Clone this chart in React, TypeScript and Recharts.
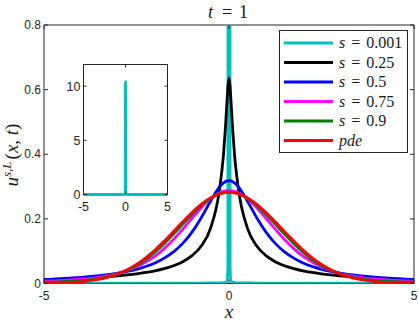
import React from 'react';
import { LineChart, Line, XAxis, YAxis, ReferenceLine, Legend } from 'recharts';

// sample positions (shared by every curve)
const xs = [
  -5, -4.5, -4, -3.5, -3, -2.75, -2.5, -2.25, -2, -1.75, -1.5, -1.25, -1, -0.75, -0.5, -0.25, -0.15, -0.1, -0.05, -0.03,
  0,
  0.03, 0.05, 0.1, 0.15, 0.25, 0.5, 0.75, 1, 1.25, 1.5, 1.75, 2, 2.25, 2.5, 2.75, 3, 3.5, 4, 4.5, 5,
];

const s0001 = [
  0.001, 0.001, 0.001, 0.001, 0.001, 0.001, 0.001, 0.001, 0.001, 0.001, 0.001, 0.001, 0.001, 0.001, 0.002, 0.002, 0.003, 0.004, 0.008, 0.05,
  10.4,
  0.05, 0.008, 0.004, 0.003, 0.002, 0.002, 0.001, 0.001, 0.001, 0.001, 0.001, 0.001, 0.001, 0.001, 0.001, 0.001, 0.001, 0.001, 0.001, 0.001,
];
const s025 = [
  0.0124, 0.0142, 0.0165, 0.0196, 0.0238, 0.0266, 0.0299, 0.0341, 0.0391, 0.0459, 0.0549, 0.0675, 0.0861, 0.1161, 0.1708, 0.296, 0.398, 0.476, 0.571, 0.607,
  0.6366,
  0.607, 0.571, 0.476, 0.398, 0.296, 0.1708, 0.1161, 0.0861, 0.0675, 0.0549, 0.0459, 0.0391, 0.0341, 0.0299, 0.0266, 0.0238, 0.0196, 0.0165, 0.0142, 0.0124,
];
const s05 = [
  0.0122, 0.0149, 0.0187, 0.0241, 0.0318, 0.0372, 0.0439, 0.0525, 0.0637, 0.0786, 0.0979, 0.1242, 0.1592, 0.2037, 0.2546, 0.2996, 0.3113, 0.3152, 0.3175, 0.318,
  0.3183,
  0.318, 0.3175, 0.3152, 0.3113, 0.2996, 0.2546, 0.2037, 0.1592, 0.1242, 0.0979, 0.0786, 0.0637, 0.0525, 0.0439, 0.0372, 0.0318, 0.0241, 0.0187, 0.0149, 0.0122,
];
const s075 = [
  0.0071, 0.0097, 0.0136, 0.0199, 0.0315, 0.0403, 0.0512, 0.0662, 0.0845, 0.108, 0.1361, 0.1681, 0.2019, 0.2347, 0.2623, 0.2808, 0.285, 0.2863, 0.2871, 0.2873,
  0.2874,
  0.2873, 0.2871, 0.2863, 0.285, 0.2808, 0.2623, 0.2347, 0.2019, 0.1681, 0.1361, 0.108, 0.0845, 0.0662, 0.0512, 0.0403, 0.0315, 0.0199, 0.0136, 0.0097, 0.0071,
];
const s09 = [
  0.0038, 0.0055, 0.0088, 0.016, 0.0304, 0.0415, 0.0559, 0.0743, 0.0968, 0.1232, 0.1527, 0.1837, 0.2143, 0.2419, 0.2639, 0.2782, 0.2813, 0.2823, 0.2829, 0.283,
  0.2831,
  0.283, 0.2829, 0.2823, 0.2813, 0.2782, 0.2639, 0.2419, 0.2143, 0.1837, 0.1527, 0.1232, 0.0968, 0.0743, 0.0559, 0.0415, 0.0304, 0.016, 0.0088, 0.0055, 0.0038,
];
const pde = [
  0.0005, 0.0018, 0.0052, 0.0132, 0.0297, 0.0426, 0.0591, 0.0796, 0.1038, 0.1312, 0.1607, 0.1909, 0.2197, 0.2451, 0.265, 0.2777, 0.2805, 0.2814, 0.2819, 0.2821,
  0.2821,
  0.2821, 0.2819, 0.2814, 0.2805, 0.2777, 0.265, 0.2451, 0.2197, 0.1909, 0.1607, 0.1312, 0.1038, 0.0796, 0.0591, 0.0426, 0.0297, 0.0132, 0.0052, 0.0018, 0.0005,
];

const xTicks = [-5, 0, 5];
const yTicks = [0, 0.2, 0.4, 0.6, 0.8];
const insetYTicks = [0, 5, 10];

const SERIES = [
  { key: 's0001', values: s0001, color: '#00BFBF', sym: 's', rest: ' = 0.001' },
  { key: 's025', values: s025, color: '#000000', sym: 's', rest: ' = 0.25' },
  { key: 's05', values: s05, color: '#0000FF', sym: 's', rest: ' = 0.5' },
  { key: 's075', values: s075, color: '#FF00FF', sym: 's', rest: ' = 0.75' },
  { key: 's09', values: s09, color: '#008000', sym: 's', rest: ' = 0.9' },
  { key: 'pde', values: pde, color: '#FF0000', sym: 'pde', rest: '' },
];

const data = xs.map((x, i) => {
  const row: Record<string, number> = { x };
  SERIES.forEach((s) => {
    row[s.key] = s.values[i];
  });
  return row;
});

const AXIS = '#262626';
const SANS = '"Liberation Sans", Arial, sans-serif';
const SERIF = '"Liberation Serif", "Times New Roman", serif';
const LW = 2.8;

type Box = { left: number; right: number; top: number; bottom: number };

// main axes box, in chart pixels
const MAIN: Box = { left: 44, right: 414, top: 25, bottom: 283.5 };
// inset axes box, in inset chart pixels
const INSET: Box = { left: 27.5, right: 111.5, top: 9.5, bottom: 139.5 };

const makeYTick = (box: Box, len: number, fs: number) => (props: any) => {
  const { y, payload } = props;
  return (
    <g>
      <text x={box.left - 3} y={y} dy={fs * 0.35} textAnchor="end" fontSize={fs} fontFamily={SANS} fill={AXIS}>
        {payload.value}
      </text>
      <line x1={box.left} x2={box.left + len} y1={y} y2={y} stroke={AXIS} />
      <line x1={box.right - len} x2={box.right} y1={y} y2={y} stroke={AXIS} />
    </g>
  );
};

const makeXTick = (box: Box, len: number, fs: number, drop: number) => (props: any) => {
  const { x, payload } = props;
  return (
    <g>
      <text x={x} y={box.bottom + drop} textAnchor="middle" fontSize={fs} fontFamily={SANS} fill={AXIS}>
        {payload.value}
      </text>
      <line x1={x} x2={x} y1={box.bottom - len} y2={box.bottom} stroke={AXIS} />
      <line x1={x} x2={x} y1={box.top} y2={box.top + len} stroke={AXIS} />
    </g>
  );
};

const renderTitle = () => (
  <text y={18} fontFamily={SERIF} fontSize={18} fill="#1a1a1a">
    <tspan x={208} fontStyle="italic">t</tspan>
    <tspan x={222}>=</tspan>
    <tspan x={239}>1</tspan>
  </text>
);

const renderXLabel = () => (
  <text x={229} y={318} textAnchor="middle" fontFamily={SERIF} fontSize={19} fontStyle="italic" fill="#1a1a1a">
    x
  </text>
);

const renderYLabel = () => (
  <text
    transform="translate(17.5,155) rotate(-90)"
    textAnchor="middle"
    fontFamily={SERIF}
    fontSize={19}
    fill="#1a1a1a"
  >
    <tspan fontStyle="italic">u</tspan>
    <tspan fontStyle="italic" fontSize={13} dy={-7}>s,L</tspan>
    <tspan dy={7} dx={2}>(</tspan>
    <tspan fontStyle="italic">x</tspan>
    <tspan>, </tspan>
    <tspan fontStyle="italic">t</tspan>
    <tspan>)</tspan>
  </text>
);

const renderLegend = () => (
  <svg width={129} height={123} style={{ display: 'block' }}>
    <rect x={0.5} y={0.5} width={128} height={122} fill="#fff" stroke={AXIS} />
    {SERIES.map((s, i) => {
      const y = 13 + i * 19.5;
      return (
        <g key={s.key}>
          <line x1={5} x2={54} y1={y} y2={y} stroke={s.color} strokeWidth={LW} />
          <text x={60} y={y + 5} fontFamily={SERIF} fontSize={16} fill="#1a1a1a" wordSpacing={2}>
            <tspan fontStyle="italic">{s.sym}</tspan>
            {s.rest && <tspan>{s.rest}</tspan>}
          </text>
        </g>
      );
    })}
  </svg>
);

export default function App() {
  return (
    <div style={{ position: 'absolute', left: 0, top: 0, width: 419, height: 325, background: '#fff' }}>
      <LineChart
        width={419}
        height={325}
        data={data}
        margin={{ top: MAIN.top, right: 419 - MAIN.right, bottom: 0, left: 0 }}
      >
        <XAxis
          dataKey="x"
          type="number"
          domain={[-5, 5]}
          ticks={xTicks}
          height={325 - MAIN.bottom}
          tickSize={0}
          tickLine={false}
          axisLine={false}
          tick={makeXTick(MAIN, 4, 12, 16)}
          label={{ content: renderXLabel }}
        />
        <YAxis
          type="number"
          domain={[0, 0.8]}
          ticks={yTicks}
          allowDataOverflow
          width={MAIN.left}
          tickSize={0}
          tickMargin={3}
          tickLine={false}
          axisLine={{ stroke: AXIS }}
          tick={makeYTick(MAIN, 4, 12)}
          label={{ content: renderYLabel }}
        />
        <ReferenceLine y={0} stroke={AXIS} />
        <ReferenceLine y={0.8} stroke={AXIS} label={{ content: renderTitle }} />
        <ReferenceLine x={5} stroke={AXIS} />
        {SERIES.map((s) => (
          <Line
            key={s.key}
            type="monotone"
            dataKey={s.key}
            stroke={s.color}
            strokeWidth={LW}
            dot={false}
            activeDot={false}
            isAnimationActive={false}
          />
        ))}
        <Legend
          layout="horizontal"
          verticalAlign="middle"
          align="center"
          wrapperStyle={{ left: 279, top: 30, width: 129, height: 123 }}
          content={renderLegend}
        />
      </LineChart>

      {/* inset: the s = 0.001 curve on its own scale */}
      <div style={{ position: 'absolute', left: 56, top: 55 }}>
        <LineChart
          width={120}
          height={165}
          data={data}
          margin={{ top: INSET.top, right: 120 - INSET.right, bottom: 0, left: 0 }}
        >
          <XAxis
            dataKey="x"
            type="number"
            domain={[-5, 5]}
            ticks={xTicks}
            height={165 - INSET.bottom}
            tickSize={0}
            tickLine={false}
            axisLine={false}
            tick={makeXTick(INSET, 3, 12.5, 16)}
          />
          <YAxis
            type="number"
            domain={[0, 12]}
            ticks={insetYTicks}
            width={INSET.left}
            tickSize={0}
            tickMargin={3}
            tickLine={false}
            axisLine={{ stroke: AXIS }}
            tick={makeYTick(INSET, 3, 12.5)}
          />
          <ReferenceLine y={0} stroke={AXIS} />
          <ReferenceLine y={12} stroke={AXIS} />
          <ReferenceLine x={5} stroke={AXIS} />
          <Line
            type="monotone"
            dataKey="s0001"
            stroke="#00BFBF"
            strokeWidth={LW}
            dot={false}
            activeDot={false}
            isAnimationActive={false}
          />
        </LineChart>
      </div>
    </div>
  );
}
